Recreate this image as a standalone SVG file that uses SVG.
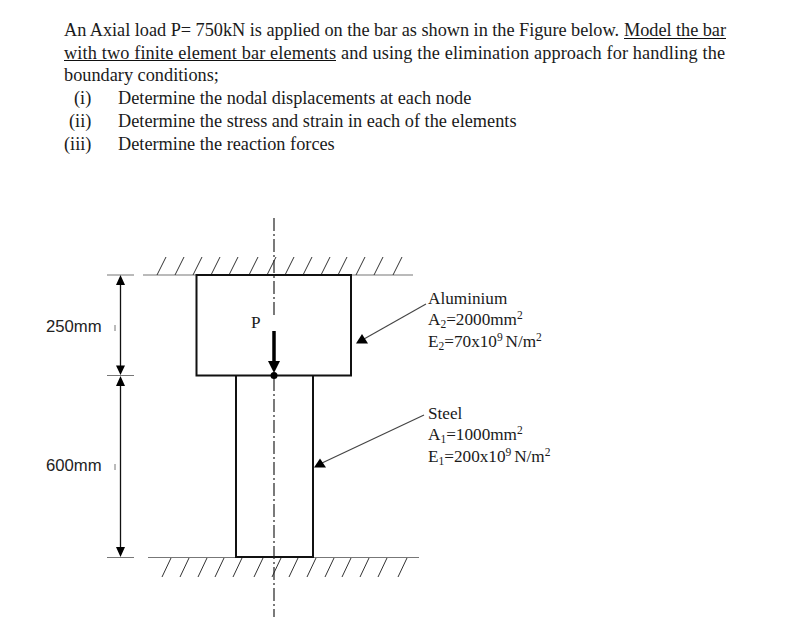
<svg xmlns="http://www.w3.org/2000/svg" width="786" height="638" viewBox="0 0 786 638">
<style>
text{font-family:"Liberation Serif","Times New Roman",serif;fill:#1a1a1a}
.b{font-size:18.3px}
.l{font-size:17.2px}
.s{font-family:"Liberation Sans",Arial,sans-serif;font-size:16.7px;fill:#222}
.sub{font-size:11.500px}
.o{fill:none;stroke:#111;stroke-width:2}
.t{stroke:#777;stroke-width:1.2}
.h{stroke:#333;stroke-width:1;fill:none}
.d{stroke:#111;stroke-width:1.3}
.c{stroke:#222;stroke-width:1.2;stroke-dasharray:13 3 2 3;fill:none}
.f{fill:#000}
.u{stroke:#111;stroke-width:1.2}
</style>
<rect width="786" height="638" fill="#fff"/>
<g id="problem-text">
<text class="b" x="64" y="35.700" textLength="555">An Axial load P= 750kN is applied on the bar as shown in the Figure below.</text>
<text class="b" x="624" y="35.700" textLength="102">Model the bar</text>
<path class="u" d="M624 38.500H726"/>
<text class="b" x="64" y="58.500" textLength="272">with two finite element bar elements</text>
<path class="u" d="M64 60.500H336"/>
<text class="b" x="341" y="58.500" textLength="384">and using the elimination approach for handling the</text>
<text class="b" x="64" y="80.700">boundary conditions;</text>
<text class="b" x="74" y="103.700">(i)</text>
<text class="b" x="69" y="126.700">(ii)</text>
<text class="b" x="64" y="149.700">(iii)</text>
<text class="b" x="118" y="103.700">Determine the nodal displacements at each node</text>
<text class="b" x="118" y="126.700">Determine the stress and strain in each of the elements</text>
<text class="b" x="118" y="149.700">Determine the reaction forces</text>
</g>
<g id="top-wall">
<path class="t" d="M143 275H413"/>
<path class="h" d="M157 275l9-18M175 275l9-18M193 275l9-18M211 275l9-18M229 275l9-18M249 275l9-18M267 275l9-18M285 275l9-18M303 275l9-18M321 275l9-18M338 275l9-18M356 275l9-18M374 275l9-18M393 275l9-18"/>
</g>
<g id="bottom-wall">
<path class="t" d="M148 557.500H419"/>
<path class="h" d="M162 577l9-19M180 577l9-19M198 577l9-19M215 577l9-19M233 577l9-19M254 577l9-19M272 577l9-19M289 577l9-19M307 577l9-19M325 577l9-19M342 577l9-19M360 577l9-19M378 577l9-19M398 577l9-19"/>
</g>
<g id="aluminium-block"><rect class="o" x="196.500" y="275" width="154.500" height="100.500"/></g>
<g id="steel-block"><path class="o" d="M236 375.500V557H313V375.500"/></g>
<g id="connectors">
<path class="c" d="M274 218V318"/>
<path class="c" d="M274 378V617"/>
<path d="M274 331V364" stroke="#000" stroke-width="3.500"/>
<path class="f" d="M268 361H280L274 373Z"/>
<circle class="f" cx="274" cy="375.500" r="3.500"/>
<path class="t" d="M107 275H134M107 375.500H134M107 557.500H134"/>
<path class="d" d="M120.500 282V368M120.500 382V550"/>
<path class="f" d="M120.500 275L116 285H125ZM120.500 375L116 365.500H125ZM120.500 376L116 386H125ZM120.500 557L116 547H125Z"/>
<path stroke="#444" stroke-width="1.100" d="M426 304L364 339"/>
<path class="f" d="M356 343.500H368L362 334Z"/>
<path stroke="#444" stroke-width="1.100" d="M424 415L322 463"/>
<path class="f" d="M314 467.500H326L320 458.500Z"/>
</g>
<g id="load-label"><text class="l" x="251" y="328">P</text></g>
<g id="dim-250"><text class="s" x="46" y="332">250mm</text><path stroke="#777" d="M115 325V331"/></g>
<g id="dim-600"><text class="s" x="46" y="471">600mm</text><path stroke="#777" d="M115 464V470"/></g>
<g id="aluminium-label">
<text class="l" x="428" y="304">Aluminium</text>
<text class="l" x="428" y="325">A<tspan class="sub" dy="3">2</tspan><tspan dy="-3">=2000mm</tspan><tspan class="sub" dy="-6">2</tspan></text>
<text class="l" x="428" y="347">E<tspan class="sub" dy="3">2</tspan><tspan dy="-3">=70x10</tspan><tspan class="sub" dy="-6">9 </tspan><tspan dy="6">N/m</tspan><tspan class="sub" dy="-6">2</tspan></text>
</g>
<g id="steel-label">
<text class="l" x="428" y="419">Steel</text>
<text class="l" x="428" y="440">A<tspan class="sub" dy="3">1</tspan><tspan dy="-3">=1000mm</tspan><tspan class="sub" dy="-6">2</tspan></text>
<text class="l" x="428" y="462">E<tspan class="sub" dy="3">1</tspan><tspan dy="-3">=200x10</tspan><tspan class="sub" dy="-6">9 </tspan><tspan dy="6">N/m</tspan><tspan class="sub" dy="-6">2</tspan></text>
</g>
</svg>
